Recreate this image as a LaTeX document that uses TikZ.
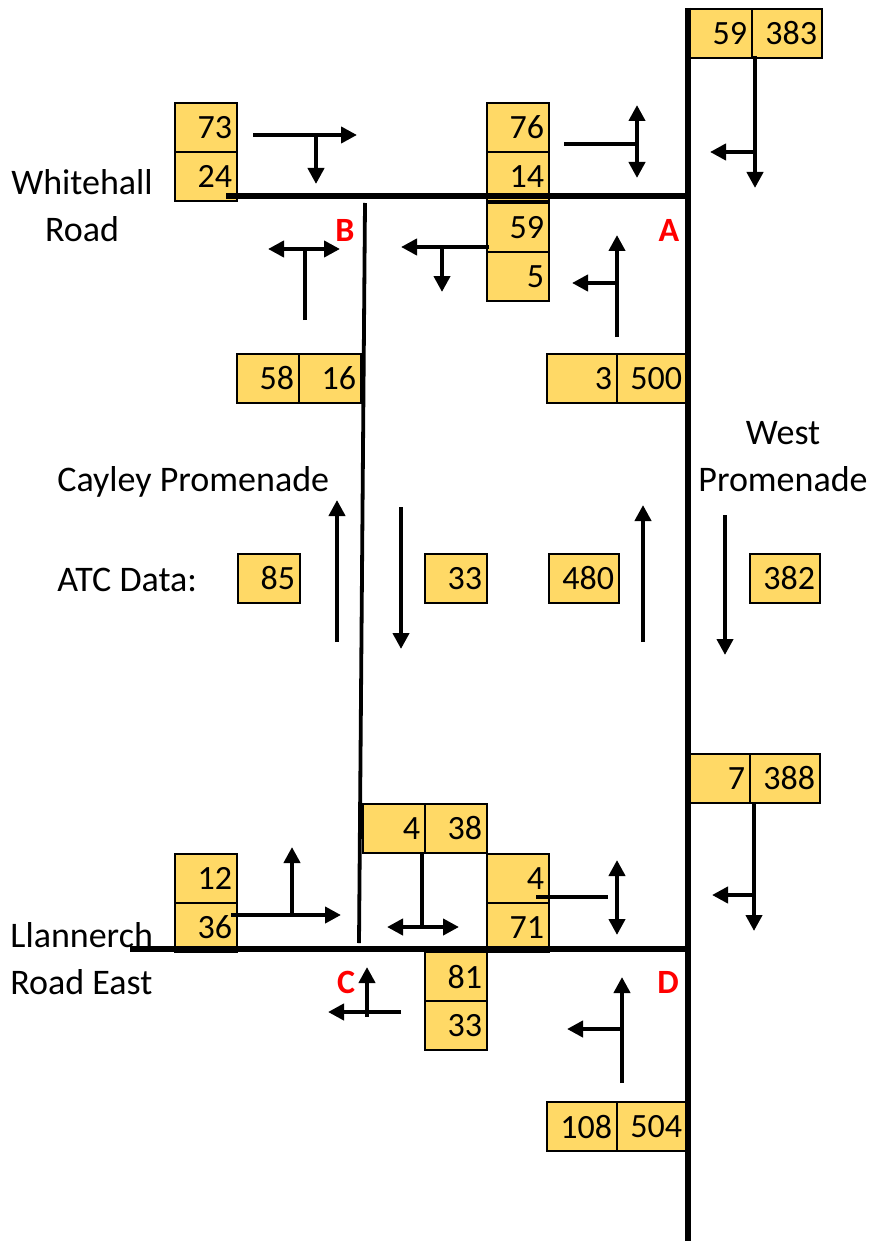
\documentclass[tikz,border=0pt]{standalone}
\usepackage{fontspec}
\setmainfont{Carlito}
\usepackage{tikz}
\usetikzlibrary{arrows.meta,positioning}
\definecolor{cellgold}{HTML}{FFD966}
\definecolor{jred}{HTML}{FF0000}

\tikzset{
  cnt/.style={rectangle,draw=black,line width=0.75pt,fill=cellgold,text width=#1,align=right,
    minimum height=24.5pt,inner xsep=2.5pt,inner ysep=0pt,outer sep=0pt,font=\fontsize{17}{20}\selectfont},
  cnt/.default=26pt,
  road/.style={line width=2.75pt},
  flow/.style={-{Triangle[length=8pt,width=8pt]},line width=2pt},
  flowtwo/.style={{Triangle[length=8pt,width=8pt]}-{Triangle[length=8pt,width=8pt]},line width=2pt},
  stem/.style={line width=2pt},
  roadname/.style={inner sep=0pt,font=\fontsize{18}{23.5}\selectfont},
  jlabel/.style={text=jred,font=\fontsize{17}{18}\selectfont\bfseries}
}

\begin{document}
\begin{tikzpicture}[x=0.5pt,y=-0.5pt]
\useasboundingbox (0,0) rectangle (869,1241);

% junction A / West Promenade north
\node[cnt,anchor=north west] (n59) at (690,9) {59};
\node[cnt=30pt,right=0pt of n59] (n383) {383};
\node[cnt,anchor=north west] (w76) at (487,103) {76};
\node[cnt,below=0pt of w76] (w14) {14};
\node[cnt,anchor=north west] (w59) at (487,203) {59};
\node[cnt,below=0pt of w59] (w5) {5};
\node[cnt=30pt,anchor=north west] (s3) at (547,354) {3};
\node[cnt=30pt,right=0pt of s3] (s500) {500};
% junction B / Whitehall Road
\node[cnt,anchor=north west] (e73) at (175,103) {73};
\node[cnt,below=0pt of e73] (e24) {24};
\node[cnt,anchor=north west] (c58) at (237,354) {58};
\node[cnt,right=0pt of c58] (c16) {16};
% ATC data
\node[cnt,anchor=north west] (atc85) at (238,554) {85};
\node[cnt,anchor=north west] (atc33) at (425,554) {33};
\node[cnt=30pt,anchor=north west] (atc480) at (549,554) {480};
\node[cnt=30pt,anchor=north west] (atc382) at (750,554) {382};
% junctions C and D / Llannerch Road East
\node[cnt,anchor=north west] (d7) at (688,754) {7};
\node[cnt=30pt,right=0pt of d7] (d388) {388};
\node[cnt,anchor=north west] (c4) at (363,804) {4};
\node[cnt,right=0pt of c4] (c38) {38};
\node[cnt,anchor=north west] (l12) at (175,854) {12};
\node[cnt,below=0pt of l12] (l36) {36};
\node[cnt,anchor=north west] (m4) at (487,854) {4};
\node[cnt,below=0pt of m4] (m71) {71};
\node[cnt,anchor=north west] (m81) at (425,952) {81};
\node[cnt,below=0pt of m81] (m33) {33};
\node[cnt=30pt,anchor=north west] (p108) at (547,1102) {108};
\node[cnt=30pt,right=0pt of p108] (p504) {504};

% roads
\draw[road] (688,8) -- (688,1241);
\draw[road] (226,196) -- (688,196);
\draw[road] (130,949) -- (688,949);
\draw[line width=1.9pt] (365,203) -- (359,943);

% turning movements
\draw[flow] (755,56) -- (755,188);
\draw[flow] (755,152) -- (710,152);
\draw[flow] (253,135) -- (357,135);
\draw[flow] (316,135) -- (316,184);
\draw[stem] (564,144) -- (637,144);
\draw[flowtwo] (637,105) -- (637,178);
\draw[flow] (489,247) -- (401,247);
\draw[flow] (442,247) -- (442,292);
\draw[flow] (617,337) -- (617,235);
\draw[flow] (617,283) -- (572,283);
\draw[stem] (305,320) -- (305,249);
\draw[flowtwo] (268,249) -- (340,249);
\draw[flow] (337,642) -- (337,500);
\draw[flow] (401,507) -- (401,649);
\draw[flow] (643,642) -- (643,505);
\draw[flow] (725,515) -- (725,655);
\draw[flow] (754,804) -- (754,931);
\draw[flow] (754,895) -- (712,895);
\draw[stem] (422,853) -- (422,927);
\draw[flowtwo] (387,927) -- (459,927);
\draw[flow] (231,915) -- (341,915);
\draw[flow] (292,915) -- (292,847);
\draw[stem] (536,897) -- (608,897);
\draw[flowtwo] (617,860) -- (617,935);
\draw[flow] (367,1017) -- (367,967);
\draw[flow] (401,1012) -- (328,1012);
\draw[flow] (622,1083) -- (622,977);
\draw[flow] (622,1029) -- (567,1029);

% names
\node[roadname,align=center] (whitehall) at (82,206) {Whitehall\\Road};
\node[roadname,align=left,anchor=west] (llannerch) at (10,959) {Llannerch\\Road East};
\node[roadname,anchor=west] (cayley) at (57,482) {Cayley Promenade};
\node[roadname,align=center] (westprom) at (783,457) {West\\Promenade};
\node[roadname,anchor=west] (atc) at (57,580) {ATC Data:};
\node[jlabel] (ja) at (669,230) {A};
\node[jlabel] (jb) at (345,230) {B};
\node[jlabel] (jc) at (346,982) {C};
\node[jlabel] (jd) at (668,982) {D};
\end{tikzpicture}
\end{document}
